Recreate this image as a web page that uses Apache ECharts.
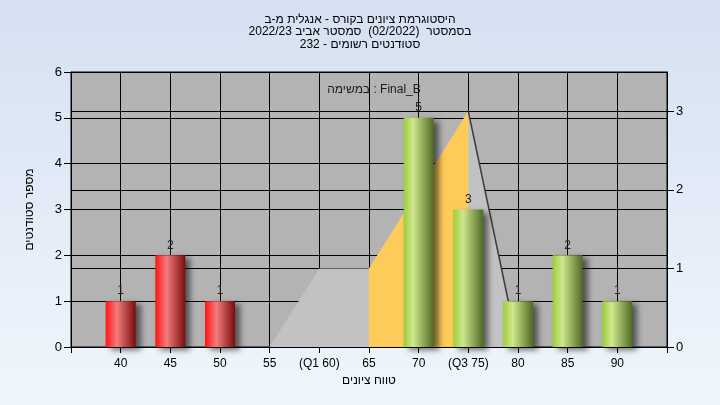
<!DOCTYPE html>
<html>
<head>
<meta charset="utf-8">
<script src="https://cdn.jsdelivr.net/npm/echarts@6/dist/echarts.min.js"></script>
<style>
html,body{margin:0;padding:0;}
#c{width:720px;height:405px;}
</style>
</head>
<body>
<div id="c"></div>
<script>
// ---- data ----
const titleLines = [
  'היסטוגרמת ציונים בקורס - אנגלית מ-ב',
  'בסמסטר  (02/2022)  סמסטר אביב 2022/23',
  'סטודנטים רשומים - 232'
];
const subTitle = 'Final_B : במשימה';
const yAxisName = 'מספר סטודנטים';
const xAxisName = 'טווח ציונים';
const xTickValues = [40, 45, 50, 55, 60, 65, 70, 75, 80, 85, 90];
const xTickLabels = ['40', '45', '50', '55', '(Q1 60)', '65', '70', '(Q3 75)', '80', '85', '90'];
const failBins = [40, 45, 50];
const failCounts = [1, 2, 1];
const passBins = [70, 75, 80, 85, 90];
const passCounts = [5, 3, 1, 2, 1];
const curveX = [55, 60, 65, 70, 75, 80];
const curveY = [0, 1, 1, 2, 3, 0];
const iqrX = [65, 70, 75];
const iqrY = [1, 2, 3];
const edgeX = [75, 80];
const edgeY = [3, 0];

const rtl = s => '\u202B' + s + '\u202C';
const zip = (a, b) => a.map((v, i) => [v, b[i]]);
const FONT = '"Liberation Sans", "DejaVu Sans", sans-serif';

const chart = echarts.init(document.getElementById('c'), null, {renderer: 'canvas'});

const redGrad = new echarts.graphic.LinearGradient(0, 0, 1, 0, [
  {offset: 0, color: '#ff1414'},
  {offset: 0.38, color: '#f27c7c'},
  {offset: 1, color: '#7a0c0c'}
]);
const greenGrad = new echarts.graphic.LinearGradient(0, 0, 1, 0, [
  {offset: 0, color: '#9dcd3a'},
  {offset: 0.32, color: '#cfe78e'},
  {offset: 1, color: '#4e6a22'}
]);
const barLabel = {show: true, position: 'top', distance: 4, color: '#222', fontSize: 12, fontFamily: FONT};
const barShadow = {shadowColor: 'rgba(0,0,0,0.55)', shadowBlur: 6, shadowOffsetX: 5, shadowOffsetY: 3};

chart.setOption({
  animation: false,
  backgroundColor: new echarts.graphic.LinearGradient(0, 0, 0, 1, [
    {offset: 0, color: '#d5e1f1'},
    {offset: 1, color: '#f0f6fd'}
  ]),
  title: [{
    text: titleLines.map(rtl).join('\n'),
    left: 'center',
    top: 8,
    textStyle: {fontSize: 12, fontWeight: 'normal', color: '#000', lineHeight: 12.5, fontFamily: FONT}
  }, {
    text: rtl(subTitle),
    left: 369,
    textAlign: 'center',
    top: 79,
    textStyle: {fontSize: 12, fontWeight: 'normal', color: '#1a1a1a', fontFamily: FONT}
  }],
  grid: {left: 71, right: 53, top: 72, bottom: 58, show: true, backgroundColor: '#b3b3b3', borderColor: '#000', borderWidth: 1},
  xAxis: {
    type: 'value', min: 35, max: 95, interval: 5,
    name: rtl(xAxisName), nameLocation: 'middle', nameGap: 27,
    nameTextStyle: {fontSize: 12, color: '#000', fontFamily: FONT},
    axisLine: {show: true, lineStyle: {color: '#000', width: 1}},
    axisTick: {show: true, length: 6, lineStyle: {color: '#000'}},
    axisLabel: {
      color: '#000', fontSize: 12, fontFamily: FONT, margin: 11,
      formatter: v => { const i = xTickValues.indexOf(v); return i >= 0 ? xTickLabels[i] : ''; }
    },
    splitLine: {show: true, lineStyle: {color: '#000', width: 1}}
  },
  yAxis: [{
    type: 'value', min: 0, max: 6, interval: 1,
    name: rtl(yAxisName), nameLocation: 'middle', nameRotate: 90, nameGap: 35,
    nameTextStyle: {fontSize: 12, color: '#000', fontFamily: FONT},
    axisLine: {show: true, lineStyle: {color: '#000'}},
    axisTick: {show: true, length: 7, lineStyle: {color: '#000'}},
    axisLabel: {color: '#000', fontSize: 13, fontFamily: FONT, margin: 9},
    splitLine: {show: true, lineStyle: {color: '#000', width: 1}}
  }, {
    type: 'value', min: 0, max: 3.5, interval: 1, position: 'right',
    axisLine: {show: true, lineStyle: {color: '#000'}},
    axisTick: {show: true, length: 7, lineStyle: {color: '#000'}},
    axisLabel: {color: '#000', fontSize: 13, fontFamily: FONT, margin: 9, showMaxLabel: false,
      formatter: v => (Number.isInteger(v) ? String(v) : '')},
    splitLine: {show: true, lineStyle: {color: '#000', width: 1}}
  }],
  series: [{
    type: 'line', yAxisIndex: 1, data: zip(curveX, curveY),
    symbol: 'none', lineStyle: {width: 0}, areaStyle: {color: '#c2c2c2', opacity: 1}, z: 1
  }, {
    type: 'line', yAxisIndex: 1, data: zip(iqrX, iqrY),
    symbol: 'none', lineStyle: {width: 0}, areaStyle: {color: '#fecb5a', opacity: 1}, z: 2
  }, {
    type: 'line', yAxisIndex: 1, data: zip(edgeX, edgeY),
    symbol: 'none', lineStyle: {width: 1.5, color: '#3a3a3a'}, z: 3
  }, {
    type: 'bar', data: zip(failBins, failCounts), barWidth: 30,
    itemStyle: Object.assign({color: redGrad}, barShadow), label: barLabel, z: 4
  }, {
    type: 'bar', data: zip(passBins, passCounts), barWidth: 30, barGap: '-100%',
    itemStyle: Object.assign({color: greenGrad}, barShadow), label: barLabel, z: 4
  }]
});
</script>
</body>
</html>
